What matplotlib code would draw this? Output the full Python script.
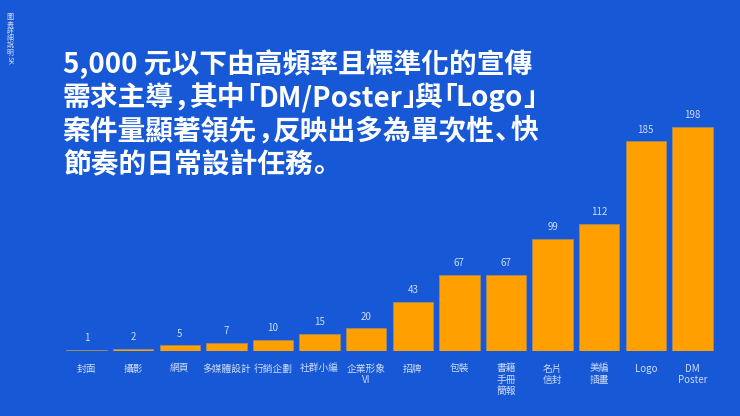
import matplotlib
matplotlib.use("Agg")
import matplotlib.pyplot as plt
from matplotlib.font_manager import FontProperties

plt.rcParams['font.family'] = ['Noto Sans CJK TC', 'DejaVu Sans']

# data
categories = ["封面", "攝影", "網頁", "多媒體設計", "行銷企劃", "社群小編", "企業形象\nVI",
              "招牌", "包裝", "書籍\n手冊\n簡報", "名片\n信封", "美編\n插畫", "Logo", "DM\nPoster"]
counts = [1, 2, 5, 7, 10, 15, 20, 43, 67, 67, 99, 112, 185, 198]

title_lines = ["5,000 元以下由高頻率且標準化的宣傳",
               "需求主導，其中「DM/Poster」與「Logo」",
               "案件量顯著領先，反映出多為單次性、快",
               "節奏的日常設計任務。"]

BG = "#1658d5"
BAR = "#ffa000"
LABEL = "#cfdcf7"

W, H = 740, 416
fig = plt.figure(figsize=(W / 100, H / 100), dpi=100)
fig.patch.set_facecolor(BG)

# plot area: x from 61 to 718 px, baseline at y=351 px
ax = fig.add_axes([61 / W, (H - 351) / H, (718 - 61) / W, (351 - 113) / H])
ax.set_facecolor(BG)
x = range(len(categories))
ax.bar(x, counts, width=0.87, color=BAR, edgecolor="#a08a6a", linewidth=0.6)
ax.set_xlim(-0.55, len(categories) - 0.45)
ax.set_ylim(0, 210)

for i, v in enumerate(counts):
    ax.text(i, v + 6, str(v), ha="center", va="bottom", fontsize=7, color=LABEL)

ax.set_xticks(list(x))
ax.set_xticklabels(categories, fontsize=7, color=LABEL, linespacing=1.15, va="top")
ax.tick_params(axis="x", length=0, pad=9)
ax.set_yticks([])
for s in ax.spines.values():
    s.set_visible(False)

# title: CJK punctuation set half width, like the proportional web font in the reference
size = 20
prop = FontProperties(family=['Noto Sans CJK TC', 'DejaVu Sans'], weight="bold", size=size)
punct_prop = FontProperties(family=['Noto Sans CJK JP'], weight="bold", size=size)
renderer = fig.canvas.get_renderer()
em = size * fig.dpi / 72
open_p = "「"
close_p = "」，、。"


def run_width(s):
    w, h, d = renderer.get_text_width_height_descent(s, prop, ismath=False)
    return w


for k, line in enumerate(title_lines):
    px = 63
    py = 73 + k * 33   # baseline in pixels from the top
    buf = ""
    for ch in line + "\0":
        if ch in open_p or ch in close_p or ch == "\0":
            if buf:
                fig.text(px / W, 1 - py / H, buf, fontproperties=prop, color="white",
                         ha="left", va="baseline")
                px += run_width(buf)
                buf = ""
            if ch == "\0":
                break
            dx = -0.47 * em if ch in open_p else 0
            fig.text((px + dx) / W, 1 - py / H, ch, fontproperties=punct_prop,
                     color="white", ha="left", va="baseline")
            px += (0.56 if ch in "，、" else 0.47) * em
        else:
            buf += ch

fig.text(10 / W, 1 - 13 / H, "圖\n表\n詳\n細\n說\n明", ha="center", va="top",
         fontsize=5, color=LABEL, linespacing=0.85)
fig.text(10 / W, 1 - 56 / H, "SK", ha="center", va="top", rotation=-90,
         fontsize=5, color=LABEL)

fig.savefig("out.png", dpi=100, facecolor=BG)
